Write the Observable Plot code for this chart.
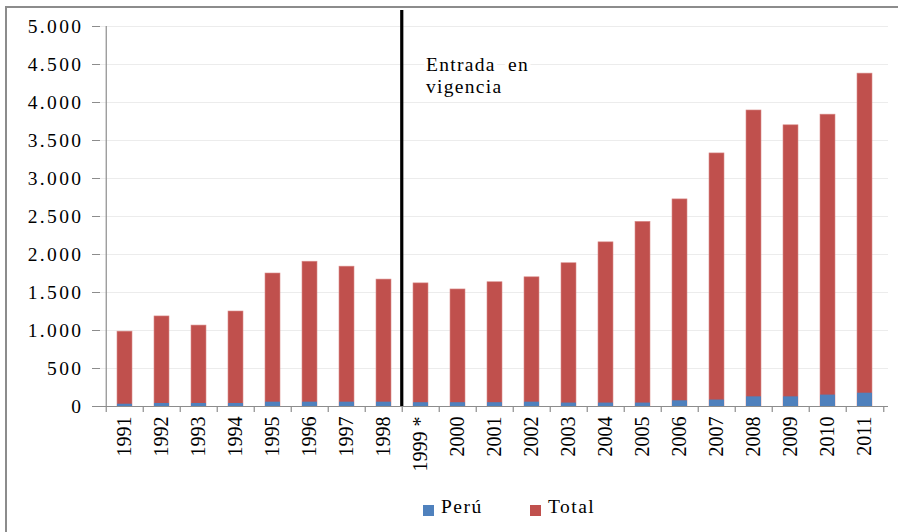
<!DOCTYPE html>
<html>
<head>
<meta charset="utf-8">
<script src="https://cdn.jsdelivr.net/npm/d3@7"></script>
<script src="https://cdn.jsdelivr.net/npm/@observablehq/plot@0.6"></script>
<style>
  html, body { margin: 0; padding: 0; background: #fff; }
  #wrap { position: relative; width: 898px; height: 532px; overflow: hidden; font-family: "Liberation Serif", serif; }
  #frame { position: absolute; left: 5px; top: 6px; width: 1000px; height: 1000px; border-left: 2px solid #8c8c8c; border-top: 2px solid #8c8c8c; pointer-events: none; }
  #chart { position: absolute; left: 0; top: 0; }
  #legend { position: absolute; left: 0; top: 496px; width: 898px; height: 30px; }
  .item { position: absolute; top: 0; font-size: 19.5px; color: #000; letter-spacing: 1.5px; font-family: "Liberation Serif", serif; }
  .sw { position: absolute; width: 11px; height: 11px; top: 9px; }
</style>
</head>
<body>
<div id="wrap">
  <div id="chart"></div>
  <div id="frame"></div>
  <div id="legend"></div>
</div>
<script>
const years = ["1991","1992","1993","1994","1995","1996","1997","1998","1999 *","2000","2001","2002","2003","2004","2005","2006","2007","2008","2009","2010","2011"];
const total = [985, 1185, 1065, 1250, 1750, 1905, 1840, 1670, 1620, 1540, 1635, 1700, 1885, 2160, 2430, 2725, 3330, 3895, 3700, 3840, 4380];
const peru  = [30, 40, 40, 40, 57, 57, 57, 57, 50, 50, 50, 57, 45, 45, 45, 75, 85, 127, 127, 150, 175];
const yTicks = [0, 500, 1000, 1500, 2000, 2500, 3000, 3500, 4000, 4500, 5000];
const seriesNames = ["Perú", "Total"];
const seriesColors = ["#4F81BD", "#C0504D"];
const markerYear = "1998";
const markerTop = 5210;
const annotation = "Entrada  en\nvigencia";

const data = years.map((y, i) => ({year: y, total: total[i], peru: peru[i]}));

const FONT = "Liberation Serif";
const W = 898, H = 480, ML = 100, MR = 10, MT = 26, MB = 74;
const step = (W - ML - MR) / years.length;
const fmt = d3.formatLocale({decimal: ",", thousands: ".", grouping: [3]}).format(",d");

const chart = Plot.plot({
  width: W, height: H,
  marginLeft: ML, marginRight: MR, marginTop: MT, marginBottom: MB,
  style: {background: "transparent", overflow: "visible"},
  x: {domain: years, paddingInner: 0.6, paddingOuter: 0.3, label: null},
  y: {domain: [0, 5000], label: null},
  marks: [
    Plot.ruleY(yTicks.slice(1), {stroke: "#ececec", strokeWidth: 1}),
    Plot.barY(data, {x: "year", y1: 0, y2: "total", fill: seriesColors[1], stroke: "#d98c8a", strokeWidth: 0.6}),
    Plot.barY(data, {x: "year", y1: 0, y2: "peru", fill: seriesColors[0]}),
    Plot.ruleY([0], {stroke: "#8c8c8c", strokeWidth: 1.2}),
    Plot.ruleX([years[0]], {y1: 0, y2: 5000, dx: -step / 2, stroke: "#8c8c8c", strokeWidth: 1.2}),
    Plot.ruleX(years, {y1: 0, y2: -80, dx: -step / 2, stroke: "#8c8c8c", strokeWidth: 1.2, clip: false}),
    Plot.ruleX([years[years.length - 1]], {y1: 0, y2: -80, dx: step / 2, stroke: "#8c8c8c", strokeWidth: 1.2}),
    Plot.axisY({ticks: yTicks, tickFormat: fmt, tickSize: 8, tickPadding: 9, stroke: "#8c8c8c", fill: "#000", fontSize: 19.5, fontFamily: FONT}),
    Plot.axisX({tickSize: 0, tickPadding: 10, tickRotate: -90, fill: "#000", fontSize: 20, fontFamily: FONT}),
    Plot.ruleX([markerYear], {y1: 0, y2: markerTop, dx: step / 2 - 1, stroke: "#000", strokeWidth: 3.2}),
    Plot.text([annotation], {x: () => "1999 *", y: () => 4620, text: d => d, dx: 5, textAnchor: "start", lineAnchor: "top", lineHeight: 1.13, fontSize: 19.5, fontFamily: FONT, fill: "#000", stroke: "white", strokeWidth: 8, paintOrder: "stroke"})
  ]
});
document.getElementById("chart").append(chart);
chart.querySelectorAll("text").forEach(t => { t.style.fontFamily = "'Liberation Serif', serif"; });
chart.querySelectorAll("g[aria-label='y-axis tick label'] text").forEach(t => { t.style.letterSpacing = "2.4px"; });
chart.querySelectorAll("g[aria-label='text'] text").forEach(t => { t.style.letterSpacing = "1.3px"; });

const legend = document.getElementById("legend");
const positions = [423, 530];
seriesNames.forEach((name, i) => {
  const sw = document.createElement("div");
  sw.className = "sw";
  sw.style.left = positions[i] + "px";
  sw.style.background = seriesColors[i];
  legend.append(sw);
  const t = document.createElement("div");
  t.className = "item";
  t.style.left = (positions[i] + 18) + "px";
  t.textContent = name;
  legend.append(t);
});
</script>
</body>
</html>
